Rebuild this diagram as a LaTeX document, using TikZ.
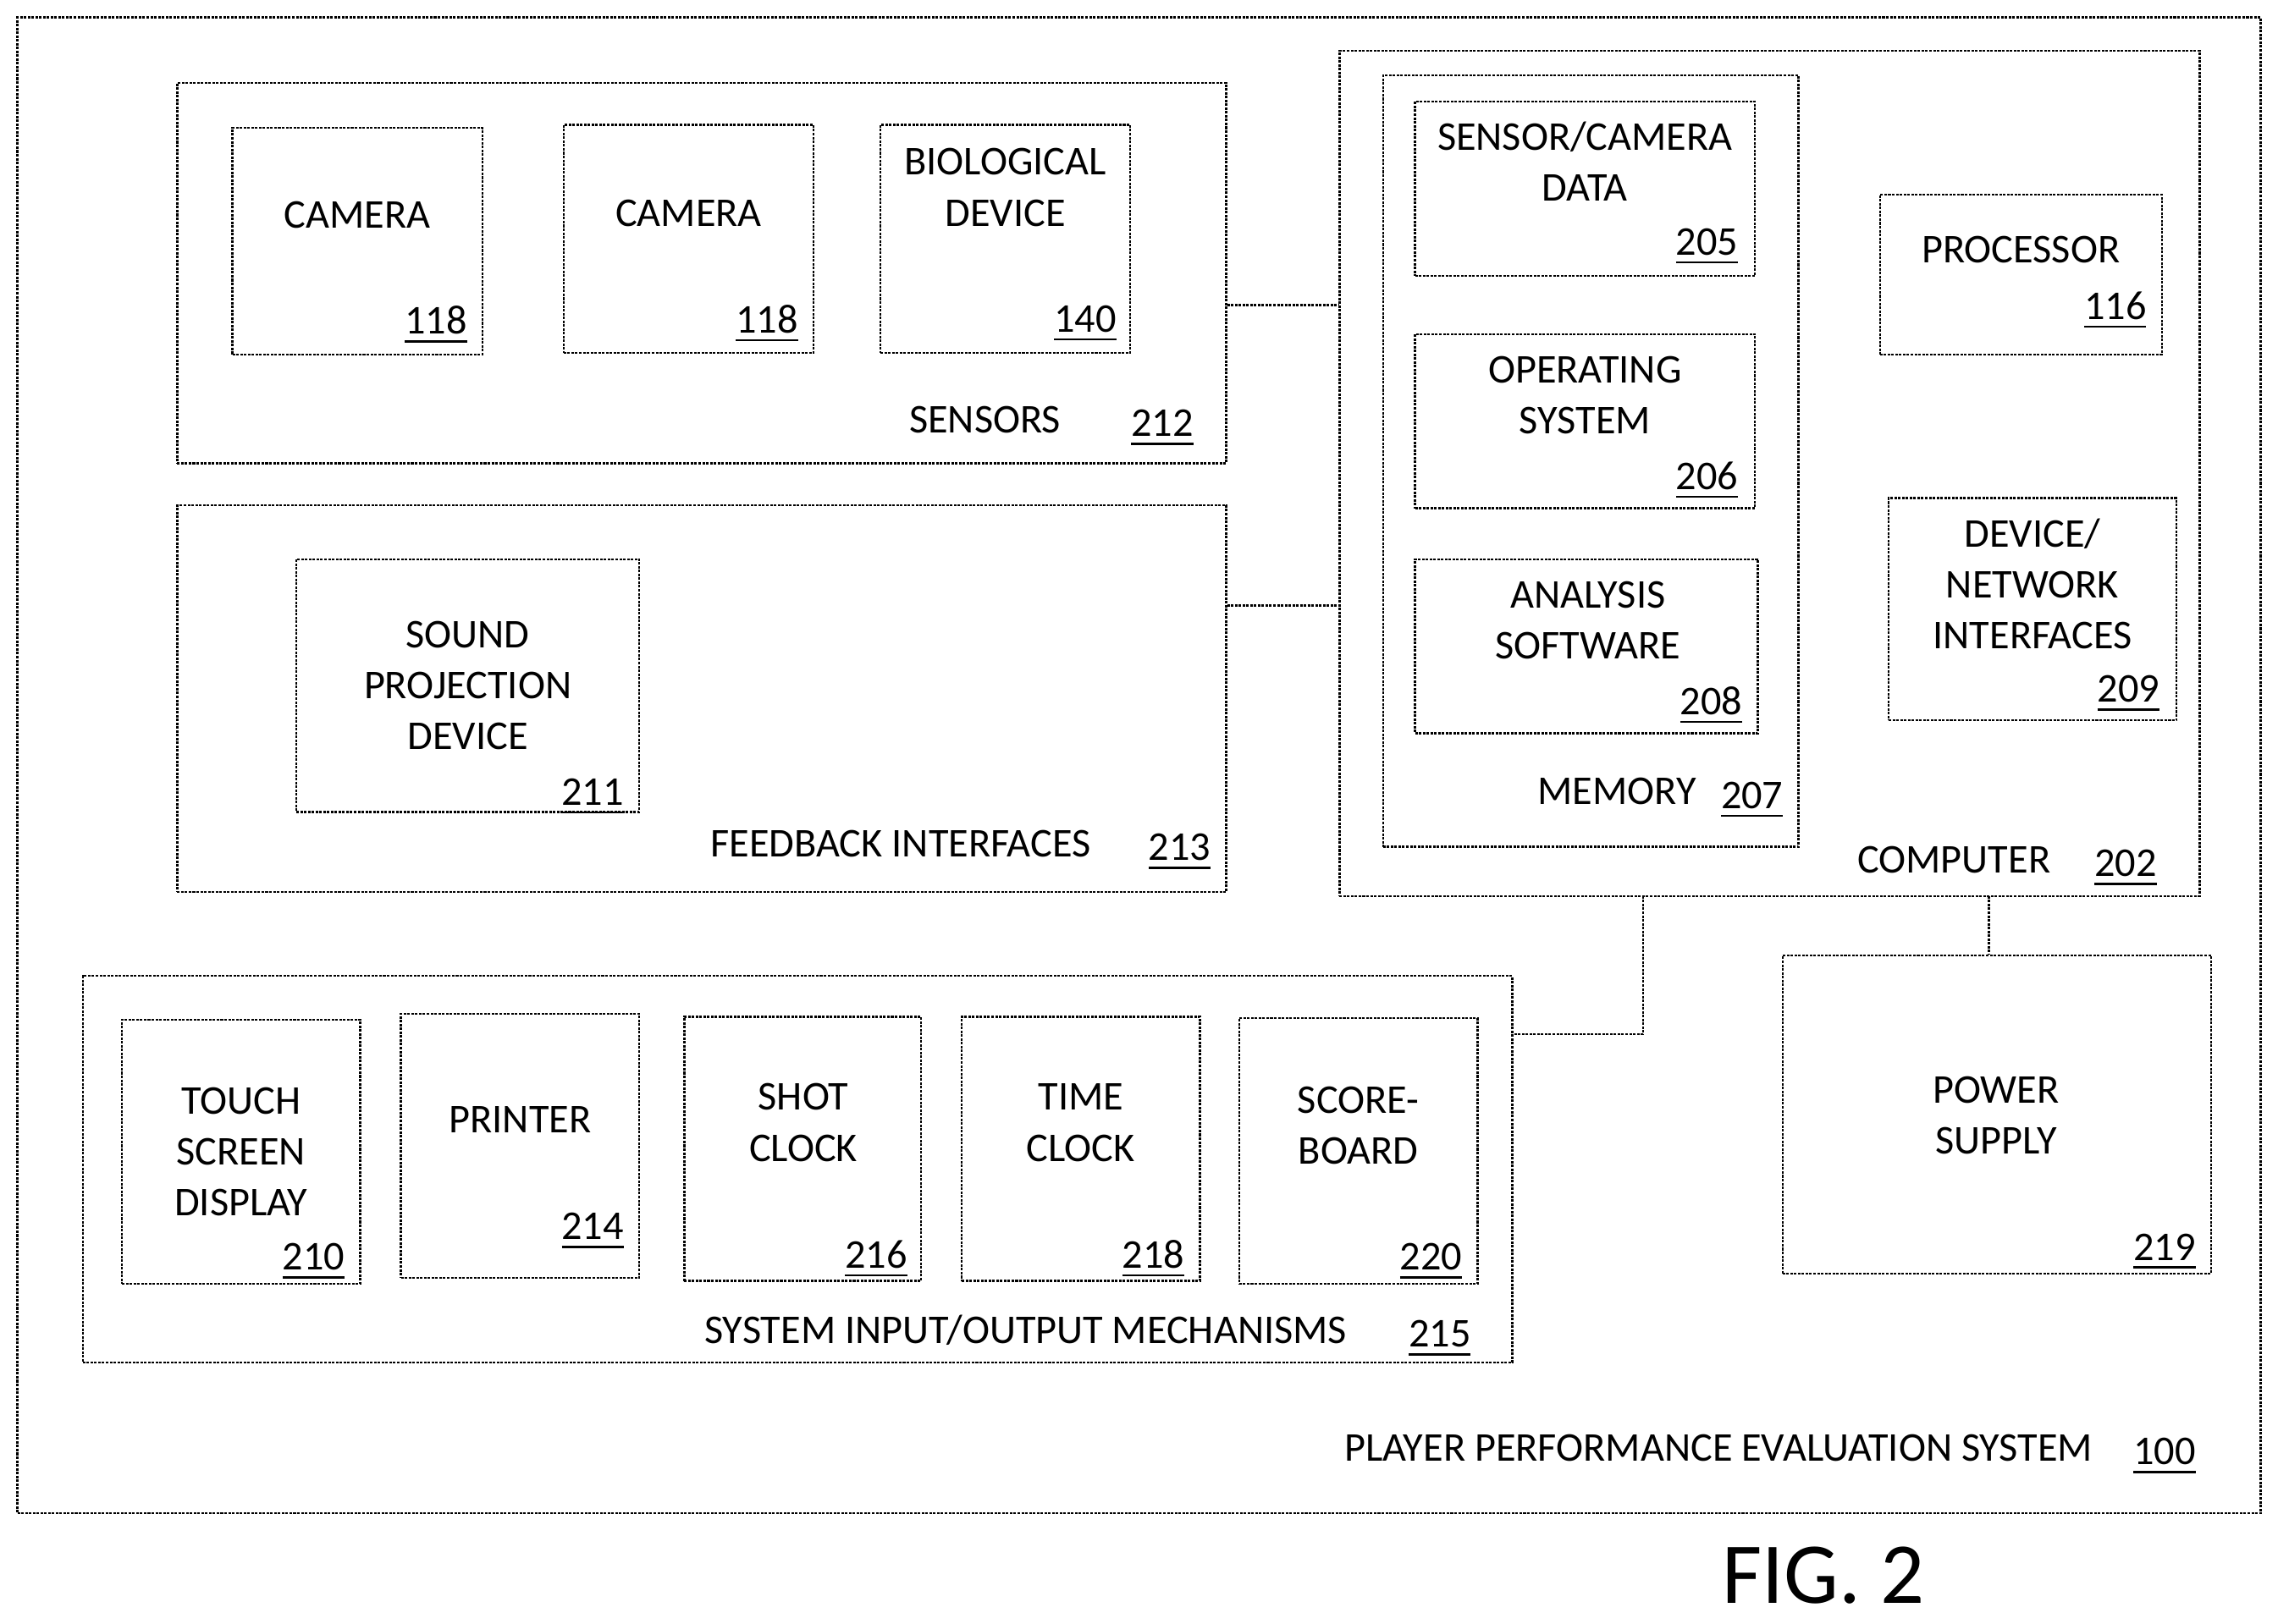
\documentclass[tikz,border=0pt]{standalone}
\usepackage{fontspec}
\setmainfont{Carlito}
\usetikzlibrary{fit}
\begin{document}
\begin{tikzpicture}[x=0.01cm,y=-0.01cm,
	box/.style={draw, line width=0.4pt, dash pattern=on 0.5pt off 0.25pt, inner sep=0pt},
	txt/.style={align=center, font=\fontsize{8}{10}\selectfont},
	num/.style={font=\fontsize{8}{10}\selectfont, yshift=-0.06cm}]

		\useasboundingbox (0,0) rectangle (1568,1118);

		% outer system
		\node[box, fit={(12,12)(1556,1042)}] (sys) {};
		\node[txt] (sysT) at (1183,997) {PLAYER PERFORMANCE EVALUATION SYSTEM};
		\node[num] (sysN) at (1490,997) {\underline{100}};

		% sensors
		\node[box, fit={(122,57)(844,319)}] (sens) {};
		\node[txt] (sensT) at (678,289) {SENSORS};
		\node[num] (sensN) at (800,289) {\underline{212}};
		\node[box, fit={(160,88)(332,244)}] (cam1) {};
		\node[txt] (cam1T) at (246,148) {CAMERA};
		\node[num] (cam1N) at (300,218) {\underline{118}};
		\node[box, fit={(388,86)(560,243)}] (cam2) {};
		\node[txt] (cam2T) at (474,147) {CAMERA};
		\node[num] (cam2N) at (528,217) {\underline{118}};
		\node[box, fit={(606,86)(778,243)}] (bio) {};
		\node[txt] (bioT) at (692,129) {BIOLOGICAL\\DEVICE};
		\node[num] (bioN) at (747,217) {\underline{140}};

		% feedback
		\node[box, fit={(122,348)(844,614)}] (feed) {};
		\node[txt] (feedT) at (620,581) {FEEDBACK INTERFACES};
		\node[num] (feedN) at (812,581) {\underline{213}};
		\node[box, fit={(204,385)(440,559)}] (sound) {};
		\node[txt] (soundT) at (322,472) {SOUND\\PROJECTION\\DEVICE};
		\node[num] (soundN) at (408,543) {\underline{211}};

		% computer
		\node[box, fit={(922,35)(1514,617)}] (comp) {};
		\node[txt] (compT) at (1345,592) {COMPUTER};
		\node[num] (compN) at (1463,592) {\underline{202}};
		\node[box, fit={(952,52)(1238,583)}] (mem) {};
		\node[txt] (memT) at (1113,545) {MEMORY};
		\node[num] (memN) at (1206,545) {\underline{207}};
		\node[box, fit={(974,70)(1208,190)}] (data) {};
		\node[txt] (dataT) at (1091,111) {SENSOR/CAMERA\\DATA};
		\node[num] (dataN) at (1175,164) {\underline{205}};
		\node[box, fit={(974,230)(1208,350)}] (os) {};
		\node[txt] (osT) at (1091,272) {OPERATING\\SYSTEM};
		\node[num] (osN) at (1175,325) {\underline{206}};
		\node[box, fit={(974,385)(1210,505)}] (soft) {};
		\node[txt] (softT) at (1093,427) {ANALYSIS\\SOFTWARE};
		\node[num] (softN) at (1178,480) {\underline{208}};
		\node[box, fit={(1294,134)(1488,244)}] (proc) {};
		\node[txt] (procT) at (1391,172) {PROCESSOR};
		\node[num] (procN) at (1456,208) {\underline{116}};
		\node[box, fit={(1300,343)(1498,496)}] (net) {};
		\node[txt] (netT) at (1399,402) {DEVICE/\\NETWORK\\INTERFACES};
		\node[num] (netN) at (1465,472) {\underline{209}};

		% input/output
		\node[box, fit={(57,672)(1041,938)}] (io) {};
		\node[txt] (ioT) at (706,916) {SYSTEM INPUT/OUTPUT MECHANISMS};
		\node[num] (ioN) at (991,916) {\underline{215}};
		\node[box, fit={(84,702)(248,884)}] (touch) {};
		\node[txt] (touchT) at (166,793) {TOUCH\\SCREEN\\DISPLAY};
		\node[num] (touchN) at (216,863) {\underline{210}};
		\node[box, fit={(276,698)(440,880)}] (print) {};
		\node[txt] (printT) at (358,771) {PRINTER};
		\node[num] (printN) at (408,842) {\underline{214}};
		\node[box, fit={(471,700)(634,882)}] (shot) {};
		\node[txt] (shotT) at (553,773) {SHOT\\CLOCK};
		\node[num] (shotN) at (603,861) {\underline{216}};
		\node[box, fit={(662,700)(826,882)}] (time) {};
		\node[txt] (timeT) at (744,773) {TIME\\CLOCK};
		\node[num] (timeN) at (794,861) {\underline{218}};
		\node[box, fit={(853,701)(1017,884)}] (score) {};
		\node[txt] (scoreT) at (935,775) {SCORE-\\BOARD};
		\node[num] (scoreN) at (985,863) {\underline{220}};

		% power
		\node[box, fit={(1227,658)(1522,877)}] (power) {};
		\node[txt] (powerT) at (1374,768) {POWER\\SUPPLY};
		\node[num] (powerN) at (1490,856) {\underline{219}};

		\node[font=\fontsize{17}{20}\selectfont] (fig) at (1255,1085) {FIG. 2};

		% connectors
		\coordinate (c1) at (1131,617);
		\coordinate (c2) at (1131,712);
		\coordinate (c3) at (1369,617);
		\draw[box] (sens.east |- 0,210) -- (comp.west |- 0,210);
		\draw[box] (feed.east |- 0,417) -- (comp.west |- 0,417);
		\draw[box] (c1) -- (c2) -- (io.east |- c2);
		\draw[box] (c3) -- (power.north -| c3);

	\end{tikzpicture}
\end{document}
